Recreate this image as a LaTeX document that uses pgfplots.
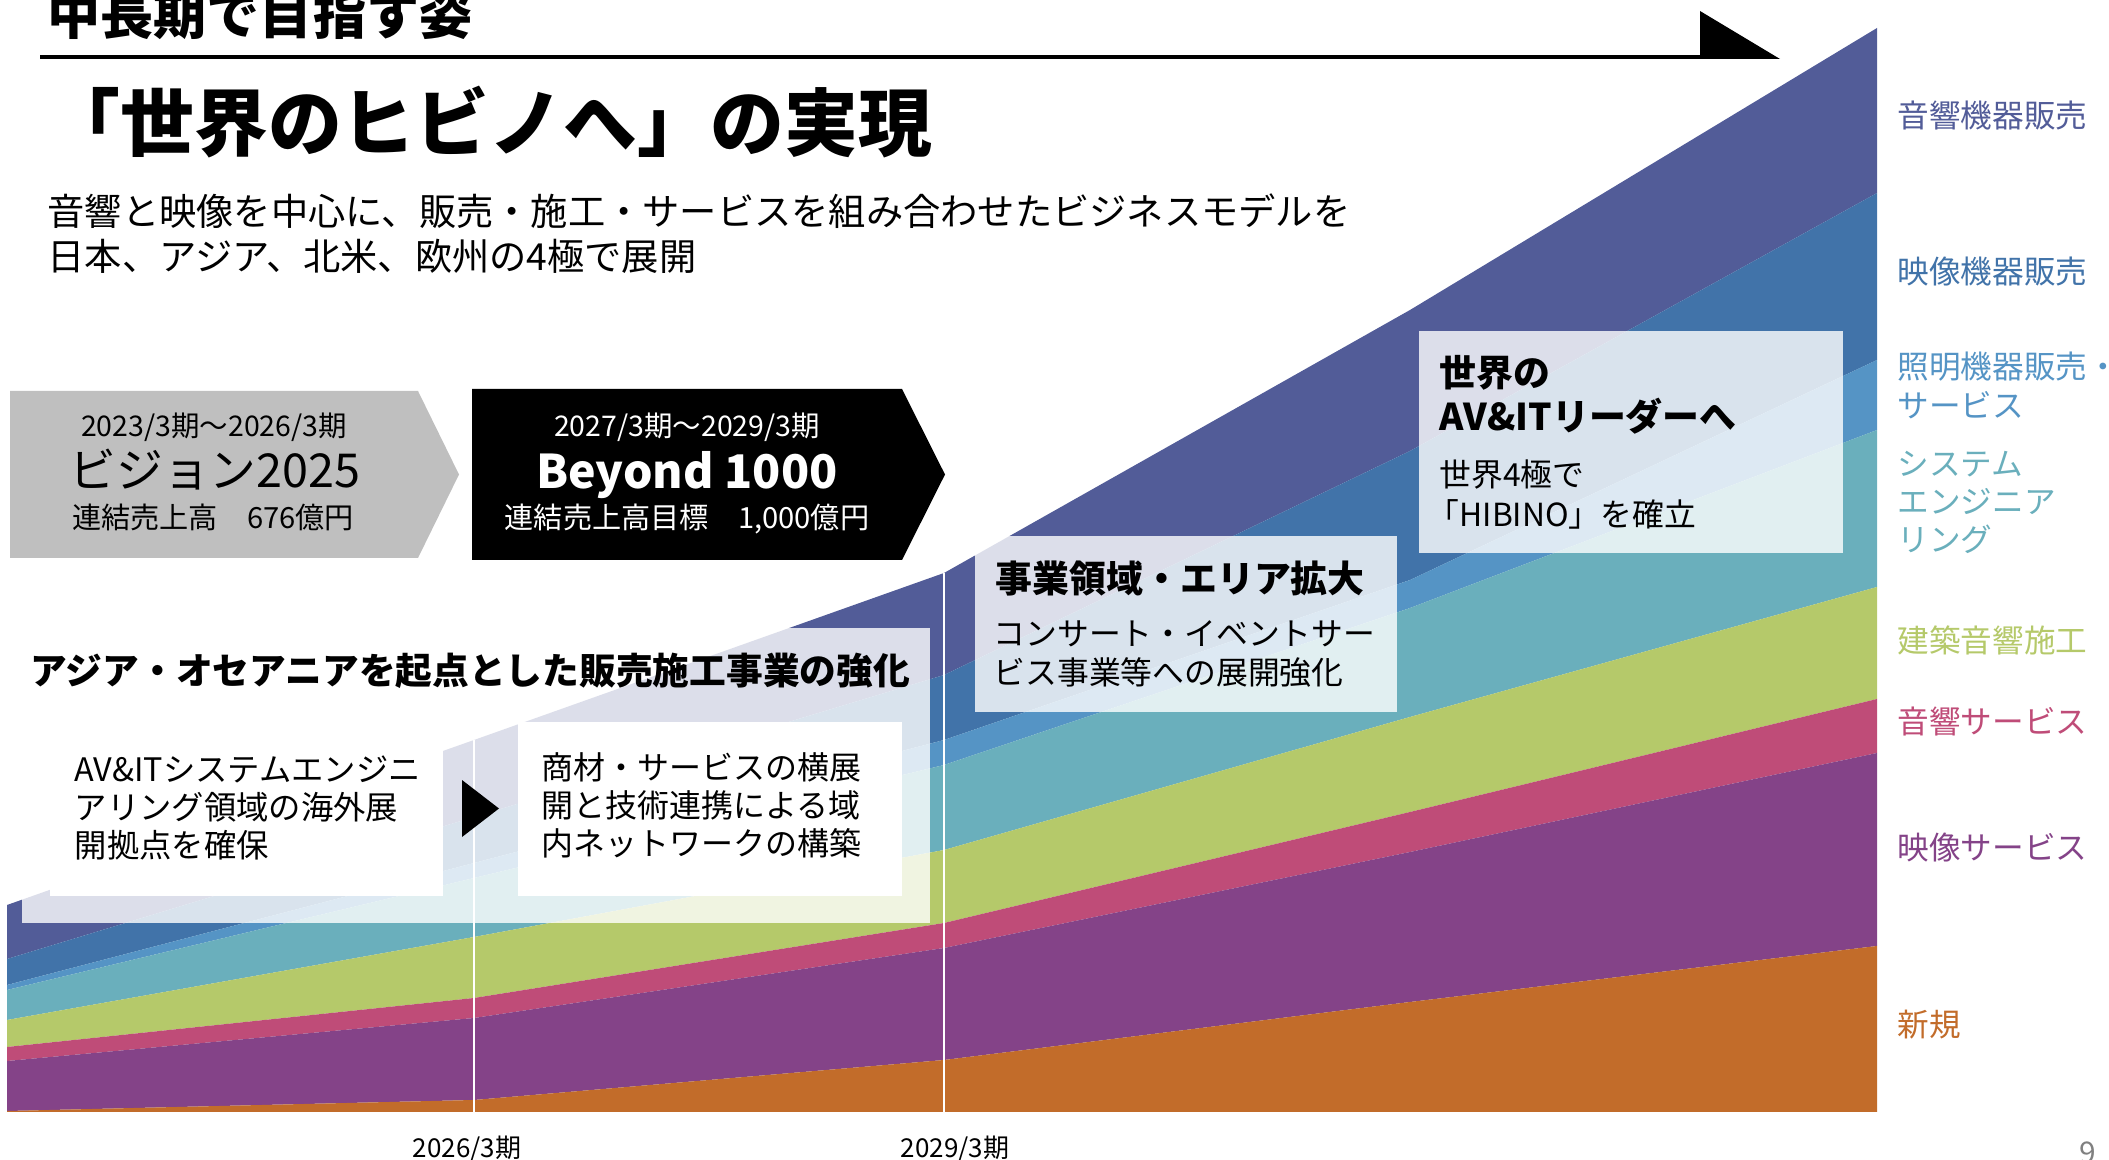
\documentclass[border=0pt]{standalone}
\usepackage{pgfplots}
\pgfplotsset{compat=1.18}
\usepackage{pgfplotstable}
\usepackage{fontspec}
\setmainfont{Noto Sans CJK JP}

\definecolor{cDark}{HTML}{525C98}
\definecolor{cMid}{HTML}{4173A9}
\definecolor{cLight}{HTML}{5594C5}
\definecolor{cTeal}{HTML}{6AAFBC}
\definecolor{cGreen}{HTML}{B5C96A}
\definecolor{cPink}{HTML}{BF4C78}
\definecolor{cPurple}{HTML}{844388}
\definecolor{cOrange}{HTML}{C26C2A}
\definecolor{cGray}{HTML}{BFBFBF}

% layer thicknesses (px of the slide), stacked from the baseline
\pgfplotstableread{
x    base orange purple pink green teal light mid dark
7    48   1      50     14   27    30   5     26  54
474  48   12     82     20   61    59   15    46  77
944  48   52     112    25   73    85   25    65  102
1410 48   110    150    40   95    109  28    129 141
1877 48   166    193    54   112   157  70    167 165
}\layers

\newcommand{\fsz}[1]{\fontsize{#1pt}{#1pt}\selectfont}

\begin{document}
\begin{tikzpicture}
\useasboundingbox (0,0) rectangle (210.9mm,116mm);
\begin{axis}[at={(0,0)}, anchor=south west, width=210.9mm, height=116mm,
  scale only axis, xmin=0, xmax=2109, ymin=0, ymax=1160, hide axis,
  clip=false, stack plots=y]
\addplot[draw=none] table[x=x,y=base]{\layers};
\addplot[fill=cOrange, draw=none] table[x=x,y=orange]{\layers} \closedcycle;
\addplot[fill=cPurple, draw=none] table[x=x,y=purple]{\layers} \closedcycle;
\addplot[fill=cPink, draw=none] table[x=x,y=pink]{\layers} \closedcycle;
\addplot[fill=cGreen, draw=none] table[x=x,y=green]{\layers} \closedcycle;
\addplot[fill=cTeal, draw=none] table[x=x,y=teal]{\layers} \closedcycle;
\addplot[fill=cLight, draw=none] table[x=x,y=light]{\layers} \closedcycle;
\addplot[fill=cMid, draw=none] table[x=x,y=mid]{\layers} \closedcycle;
\addplot[fill=cDark, draw=none] table[x=x,y=dark]{\layers} \closedcycle;
\end{axis}

\begin{scope}[x=0.1mm, y=-0.1mm, shift={(0,116mm)}]
% period lines
\draw[white, line width=0.2mm] (474,1112) -- (474,740);
\draw[white, line width=0.2mm] (944,1112) -- (944,573);
\node[anchor=base, inner sep=0] at (467,1157) {\fsz{7.4}2026/3期};
\node[anchor=base, inner sep=0] at (955,1157) {\fsz{7.4}2029/3期};

% header
\node[anchor=base west, inner sep=0] at (47,35) {\fsz{15.1}\bfseries 中長期で目指す姿};
\fill[black] (40,55) rectangle (1702,59);
\fill[black] (1700,11) -- (1700,59) -- (1780,59) -- cycle;

% title
\node[anchor=base west, inner sep=0] at (46,151) {\fsz{21}\bfseries 「世界のヒビノへ」の実現};
\node[anchor=base west, inner sep=0] at (47,226) {\fsz{10.6}音響と映像を中心に、販売・施工・サービスを組み合わせたビジネスモデルを};
\node[anchor=base west, inner sep=0] at (47,271) {\fsz{10.6}日本、アジア、北米、欧州の4極で展開};

% chevrons
\fill[cGray] (10,391) -- (418,391) -- (459,474.5) -- (418,558) -- (10,558) -- cycle;
\node[anchor=base, inner sep=0] at (214,437) {\fsz{8.1}2023/3期～2026/3期};
\node[anchor=base, inner sep=0] at (215,488) {\fsz{13.3}ビジョン2025};
\node[anchor=base, inner sep=0] at (213,529) {\fsz{8.3}連結売上高　676億円};

\fill[black] (472,389) -- (902,389) -- (945,474.5) -- (902,560) -- (472,560) -- cycle;
\node[anchor=base, inner sep=0, text=white] at (687,437) {\fsz{8.1}2027/3期～2029/3期};
\node[anchor=base, inner sep=0, text=white] at (687,489) {\fsz{13.2}\bfseries Beyond 1000};
\node[anchor=base, inner sep=0, text=white] at (687,529) {\fsz{8.3}連結売上高目標　1,000億円};

% big translucent box
\fill[white, opacity=0.8] (22,628) rectangle (930,923);
\node[anchor=base west, inner sep=0] at (30,684) {\fsz{10.45}\bfseries アジア・オセアニアを起点とした販売施工事業の強化};
\fill[white] (50,722) rectangle (443,896);
\fill[white] (518,722) rectangle (902,896);
\fill[black] (462,780) -- (499,808.5) -- (462,837) -- cycle;
\node[anchor=base west, inner sep=0] at (74,781) {\fsz{9.2}AV\&ITシステムエンジニ};
\node[anchor=base west, inner sep=0] at (74,819) {\fsz{9.2}アリング領域の海外展};
\node[anchor=base west, inner sep=0] at (74,857) {\fsz{9.2}開拠点を確保};
\node[anchor=base west, inner sep=0] at (541,779) {\fsz{9.1}商材・サービスの横展};
\node[anchor=base west, inner sep=0] at (541,817) {\fsz{9.1}開と技術連携による域};
\node[anchor=base west, inner sep=0] at (541,855) {\fsz{9.1}内ネットワークの構築};

% business area box
\fill[white, opacity=0.8] (975,536) rectangle (1397,712);
\node[anchor=base west, inner sep=0] at (995,592) {\fsz{10.5}\bfseries 事業領域・エリア拡大};
\node[anchor=base west, inner sep=0] at (993,646) {\fsz{9.05}コンサート・イベントサー};
\node[anchor=base west, inner sep=0] at (993,684) {\fsz{9.05}ビス事業等への展開強化};

% world leader box
\fill[white, opacity=0.8] (1419,331) rectangle (1843,553);
\node[anchor=base west, inner sep=0] at (1439,387) {\fsz{10.5}\bfseries 世界の};
\node[anchor=base west, inner sep=0] at (1439,431) {\fsz{10.5}\bfseries AV\&ITリーダーへ};
\node[anchor=base west, inner sep=0] at (1439,487) {\fsz{9.05}世界4極で};
\node[anchor=base west, inner sep=0] at (1427,527) {\fsz{9.05}「HIBINO」を確立};

% segment labels
\node[anchor=base west, inner sep=0, text=cDark] at (1897,128) {\fsz{9}音響機器販売};
\node[anchor=base west, inner sep=0, text=cMid] at (1897,284) {\fsz{9}映像機器販売};
\node[anchor=base west, inner sep=0, text=cLight] at (1897,379) {\fsz{9}照明機器販売・};
\node[anchor=base west, inner sep=0, text=cLight] at (1897,418) {\fsz{9}サービス};
\node[anchor=base west, inner sep=0, text=cTeal] at (1897,476) {\fsz{9}システム};
\node[anchor=base west, inner sep=0, text=cTeal] at (1897,514) {\fsz{9}エンジニア};
\node[anchor=base west, inner sep=0, text=cTeal] at (1897,551) {\fsz{9}リング};
\node[anchor=base west, inner sep=0, text=cGreen] at (1897,652) {\fsz{9}建築音響施工};
\node[anchor=base west, inner sep=0, text=cPink] at (1897,733) {\fsz{9}音響サービス};
\node[anchor=base west, inner sep=0, text=cPurple] at (1897,859) {\fsz{9}映像サービス};
\node[anchor=base west, inner sep=0, text=cOrange] at (1897,1036) {\fsz{9}新規};

% page number
\node[anchor=base, inner sep=0, text=black!50] at (2088,1163) {\fsz{8.5}9};
\end{scope}
\end{tikzpicture}
\end{document}
